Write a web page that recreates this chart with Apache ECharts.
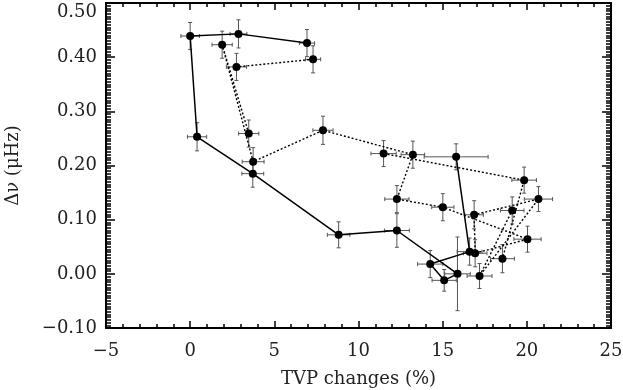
<!DOCTYPE html>
<html>
<head>
<meta charset="utf-8">
<script src="https://cdn.jsdelivr.net/npm/echarts@6/dist/echarts.min.js"></script>
<style>
  html, body { margin: 0; padding: 0; background: #fff; }
  #chart { width: 623px; height: 390px; }
</style>
</head>
<body>
<div id="chart"></div>
<script>
// solid track
const solidX    = [6.94, 2.87, 0.00, 0.41, 3.72, 8.82, 12.28, 15.88, 15.09, 14.26, 16.60, 15.80];
const solidY    = [0.426, 0.443, 0.439, 0.253, 0.185, 0.072, 0.080, 0.000, -0.012, 0.018, 0.041, 0.216];
const solidXErr = [0.45, 0.50, 0.55, 0.57, 0.65, 0.67, 0.74, 0.76, 0.72, 0.75, 0.74, 1.90];
const solidYErr = [0.025, 0.026, 0.025, 0.026, 0.025, 0.024, 0.031, 0.068, 0.020, 0.025, 0.025, 0.024];

// dotted track, long part
const dotX    = [3.48, 1.90, 3.74, 7.89, 13.23, 12.28, 15.01, 20.04, 16.93, 16.87, 20.69, 17.19, 19.13];
const dotY    = [0.259, 0.423, 0.207, 0.265, 0.220, 0.138, 0.123, 0.064, 0.038, 0.109, 0.138, -0.004, 0.117];
const dotXErr = [0.60, 0.60, 0.65, 0.60, 0.70, 0.72, 0.66, 0.81, 0.70, 0.55, 0.84, 0.74, 0.70];
const dotYErr = [0.025, 0.025, 0.026, 0.026, 0.025, 0.025, 0.025, 0.024, 0.025, 0.026, 0.023, 0.023, 0.025];

// dotted pieces
const dot2X    = [11.49, 19.84, 18.55];
const dot2Y    = [0.222, 0.173, 0.028];
const dot2XErr = [0.75, 0.73, 0.71];
const dot2YErr = [0.024, 0.024, 0.026];

const dot3X    = [7.30, 2.75];
const dot3Y    = [0.396, 0.382];
const dot3XErr = [0.45, 0.60];
const dot3YErr = [0.025, 0.025];

const xTicks = { min: -5, max: 25, step: 5 };
const yTicks = { min: -0.1, max: 0.5, step: 0.1 };

const serif = 'DejaVu Serif';

function pts(xs, ys) {
  return xs.map((x, i) => [x, ys[i]]);
}
function errs(xs, ys, xe, ye) {
  return xs.map((x, i) => [x, ys[i], xe[i], ye[i]]);
}

const errData = [].concat(
  errs(solidX, solidY, solidXErr, solidYErr),
  errs(dotX, dotY, dotXErr, dotYErr),
  errs(dot2X, dot2Y, dot2XErr, dot2YErr),
  errs(dot3X, dot3Y, dot3XErr, dot3YErr)
);

function fmtY(v) {
  if (Math.abs(v) < 1e-9) return '0.00';
  return (v < 0 ? '\u2212' : '') + Math.abs(v).toFixed(2);
}
function fmtX(v) {
  return v < 0 ? '\u2212' + (-v) : String(v);
}

function renderErr(params, api) {
  const x = api.value(0), y = api.value(1), xe = api.value(2), ye = api.value(3);
  const l = api.coord([x - xe, y]);
  const r = api.coord([x + xe, y]);
  const t = api.coord([x, y + ye]);
  const b = api.coord([x, y - ye]);
  const c = 2;
  const style = { stroke: '#555', lineWidth: 1 };
  const seg = (x1, y1, x2, y2) => ({ type: 'line', shape: { x1, y1, x2, y2 }, style });
  return {
    type: 'group',
    children: [
      seg(l[0], l[1], r[0], r[1]),
      seg(l[0], l[1] - c, l[0], l[1] + c),
      seg(r[0], r[1] - c, r[0], r[1] + c),
      seg(t[0], t[1], b[0], b[1]),
      seg(t[0] - c, t[1], t[0] + c, t[1]),
      seg(b[0] - c, b[1], b[0] + c, b[1])
    ]
  };
}

const axisLine = { show: true, onZero: false, lineStyle: { color: '#000', width: 2 } };

function xAxisCfg(pos, labels) {
  return {
    type: 'value', position: pos,
    min: xTicks.min, max: xTicks.max, interval: xTicks.step,
    axisLine: axisLine,
    axisTick: { show: true, inside: true, length: 7, lineStyle: { color: '#000', width: 1.5 } },
    minorTick: { show: true, splitNumber: 5, length: 4, lineStyle: { color: '#000', width: 1.5 } },
    splitLine: { show: false },
    axisLabel: labels ? { show: true, formatter: fmtX, color: '#222', fontFamily: serif, fontSize: 18, margin: 14 } : { show: false },
    name: labels ? 'TVP changes (%)' : '',
    nameLocation: 'middle', nameGap: 42,
    nameTextStyle: { color: '#222', fontFamily: serif, fontSize: 18 }
  };
}
function yAxisCfg(pos, labels) {
  return {
    type: 'value', position: pos,
    min: yTicks.min, max: yTicks.max, interval: yTicks.step,
    axisLine: axisLine,
    axisTick: { show: true, inside: true, length: 9, lineStyle: { color: '#000', width: 1.5 } },
    minorTick: { show: true, splitNumber: 20, length: 5, lineStyle: { color: '#000', width: 1.5 } },
    splitLine: { show: false },
    axisLabel: labels ? {
      show: true, formatter: fmtY, color: '#222', fontFamily: serif, fontSize: 18, margin: 9,
      verticalAlignMaxLabel: 'top'
    } : { show: false },
    name: labels ? 'Δν (μHz)' : '',
    nameLocation: 'middle', nameGap: 84, nameRotate: 90,
    nameTextStyle: { color: '#222', fontFamily: serif, fontSize: 18 }
  };
}

function pathSeries(data, type) {
  return {
    type: 'line', data: data, z: 3,
    symbol: 'circle', symbolSize: 8, showSymbol: true,
    itemStyle: { color: '#000' },
    lineStyle: { color: '#000', width: type === 'solid' ? 1.5 : 1.4, type: type === 'solid' ? 'solid' : [2, 2] },
    emphasis: { disabled: true }
  };
}

const chart = echarts.init(document.getElementById('chart'), null, { renderer: 'canvas' });
chart.setOption({
  animation: false,
  backgroundColor: '#fff',
  grid: { left: 106, right: 12, top: 3, bottom: 62, outerBoundsMode: 'none' },
  xAxis: [xAxisCfg('bottom', true), xAxisCfg('top', false)],
  yAxis: [yAxisCfg('left', true), yAxisCfg('right', false)],
  series: [
    {
      type: 'custom', renderItem: renderErr, data: errData, z: 2,
      encode: { x: 0, y: 1 }
    },
    pathSeries(pts(solidX, solidY), 'solid'),
    pathSeries(pts(dotX, dotY), 'dotted'),
    pathSeries(pts(dot2X, dot2Y), 'dotted'),
    pathSeries(pts(dot3X, dot3Y), 'dotted')
  ]
});
</script>
</body>
</html>
